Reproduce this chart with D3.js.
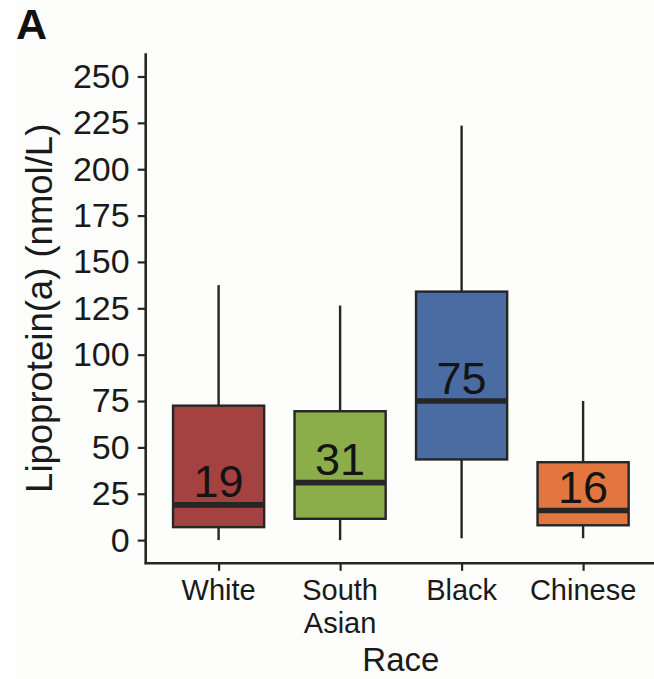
<!DOCTYPE html>
<html>
<head>
<meta charset="utf-8">
<script src="https://cdn.jsdelivr.net/npm/d3@7"></script>
<style>
  html, body { margin: 0; padding: 0; background: #ffffff; }
  svg { display: block; font-family: "Liberation Sans", Arial, sans-serif; }
</style>
</head>
<body>
<svg id="chart" width="654" height="679"></svg>
<script>
// Lipoprotein(a) by race: box summaries
const races      = ["White", "South Asian", "Black", "Chinese"];
const raceLines  = [["White"], ["South", "Asian"], ["Black"], ["Chinese"]];
const whiskerLow = [0, 0, 1, 1];
const q1         = [7, 11.5, 43.5, 8];
const medians    = [19, 31, 75, 16];
const q3         = [72.5, 69.5, 134, 42];
const whiskerHigh= [137.5, 126.5, 223.5, 75];
const fills      = ["#a44242", "#8bad4a", "#4a6ca2", "#e3763e"];
const yTicks     = [0, 25, 50, 75, 100, 125, 150, 175, 200, 225, 250];

const svg = d3.select("#chart");
const W = 654, H = 679;

// faint paper tone
svg.append("rect").attr("x", 15).attr("y", 0).attr("width", W - 15).attr("height", H)
  .attr("fill", "#fdfdfb");

const panel = { left: 145.7, top: 53.3, bottom: 563.3 };
const step = 121.5;
const panelRight = panel.left + 4.2 * step;

const y = d3.scaleLinear().domain([-12.5, 262.5]).range([panel.bottom, panel.top]);
const x = d3.scalePoint().domain(races)
  .range([panel.left + 0.6 * step, panel.left + 3.6 * step]);
const boxW = 0.75 * step;

const ink = "#262626";

// y axis
const yAxis = svg.append("g")
  .attr("transform", `translate(${panel.left},0)`)
  .call(d3.axisLeft(y).tickValues(yTicks).tickSize(8).tickPadding(8));
yAxis.select(".domain").remove();
yAxis.selectAll(".tick line").attr("stroke", ink).attr("stroke-width", 2.2);
yAxis.selectAll(".tick text")
  .attr("fill", "#1a1a1a")
  .style("font-size", "34px")
  .style("font-family", "'Liberation Sans', Arial, sans-serif");

// x axis ticks
const xAxis = svg.append("g")
  .attr("transform", `translate(0,${panel.bottom})`)
  .call(d3.axisBottom(x).tickSize(7.5).tickFormat(""));
xAxis.select(".domain").remove();
xAxis.selectAll(".tick line").attr("stroke", ink).attr("stroke-width", 2.2);

// axis lines
svg.append("line")
  .attr("x1", panel.left).attr("x2", panel.left)
  .attr("y1", panel.top).attr("y2", panel.bottom + 1)
  .attr("stroke", ink).attr("stroke-width", 2.6);
svg.append("line")
  .attr("x1", panel.left - 1).attr("x2", panelRight)
  .attr("y1", panel.bottom).attr("y2", panel.bottom)
  .attr("stroke", ink).attr("stroke-width", 2.6);

// x category labels
const xl = svg.append("g");
races.forEach((r, i) => {
  const t = xl.append("text")
    .attr("x", x(r)).attr("y", 600)
    .attr("text-anchor", "middle")
    .attr("fill", "#1a1a1a")
    .style("font-size", "29px");
  raceLines[i].forEach((line, j) => {
    t.append("tspan").attr("x", x(r)).attr("dy", j === 0 ? 0 : 32.7).text(line);
  });
});

// boxes
const data = races.map((r, i) => ({
  r, lo: whiskerLow[i], q1: q1[i], med: medians[i], q3: q3[i], hi: whiskerHigh[i], fill: fills[i]
}));

const g = svg.append("g");
data.forEach(d => {
  const cx = x(d.r);
  g.append("line").attr("x1", cx).attr("x2", cx)
    .attr("y1", y(d.q3)).attr("y2", y(d.hi))
    .attr("stroke", ink).attr("stroke-width", 2.4);
  g.append("line").attr("x1", cx).attr("x2", cx)
    .attr("y1", y(d.q1)).attr("y2", y(d.lo))
    .attr("stroke", ink).attr("stroke-width", 2.4);
  g.append("rect")
    .attr("x", cx - boxW / 2).attr("width", boxW)
    .attr("y", y(d.q3)).attr("height", y(d.q1) - y(d.q3))
    .attr("fill", d.fill).attr("stroke", ink).attr("stroke-width", 2.4);
  g.append("line")
    .attr("x1", cx - boxW / 2).attr("x2", cx + boxW / 2)
    .attr("y1", y(d.med)).attr("y2", y(d.med))
    .attr("stroke", ink).attr("stroke-width", 5.6);
  g.append("text")
    .attr("x", cx).attr("y", y(d.med) - 7.5)
    .attr("text-anchor", "middle")
    .attr("fill", "#141414")
    .style("font-size", "45px")
    .text(d.med);
});

// axis titles
svg.append("text")
  .attr("transform", `translate(52,${(panel.top + panel.bottom) / 2}) rotate(-90)`)
  .attr("text-anchor", "middle")
  .attr("fill", "#1a1a1a")
  .style("font-size", "36.5px")
  .text("Lipoprotein(a) (nmol/L)");

svg.append("text")
  .attr("x", (panel.left + panelRight) / 2).attr("y", 671)
  .attr("text-anchor", "middle")
  .attr("fill", "#1a1a1a")
  .style("font-size", "33px")
  .text("Race");

// panel tag
svg.append("text")
  .attr("x", 16).attr("y", 39)
  .attr("fill", "#111")
  .style("font-size", "43px")
  .style("font-weight", "bold")
  .text("A");
</script>
</body>
</html>
